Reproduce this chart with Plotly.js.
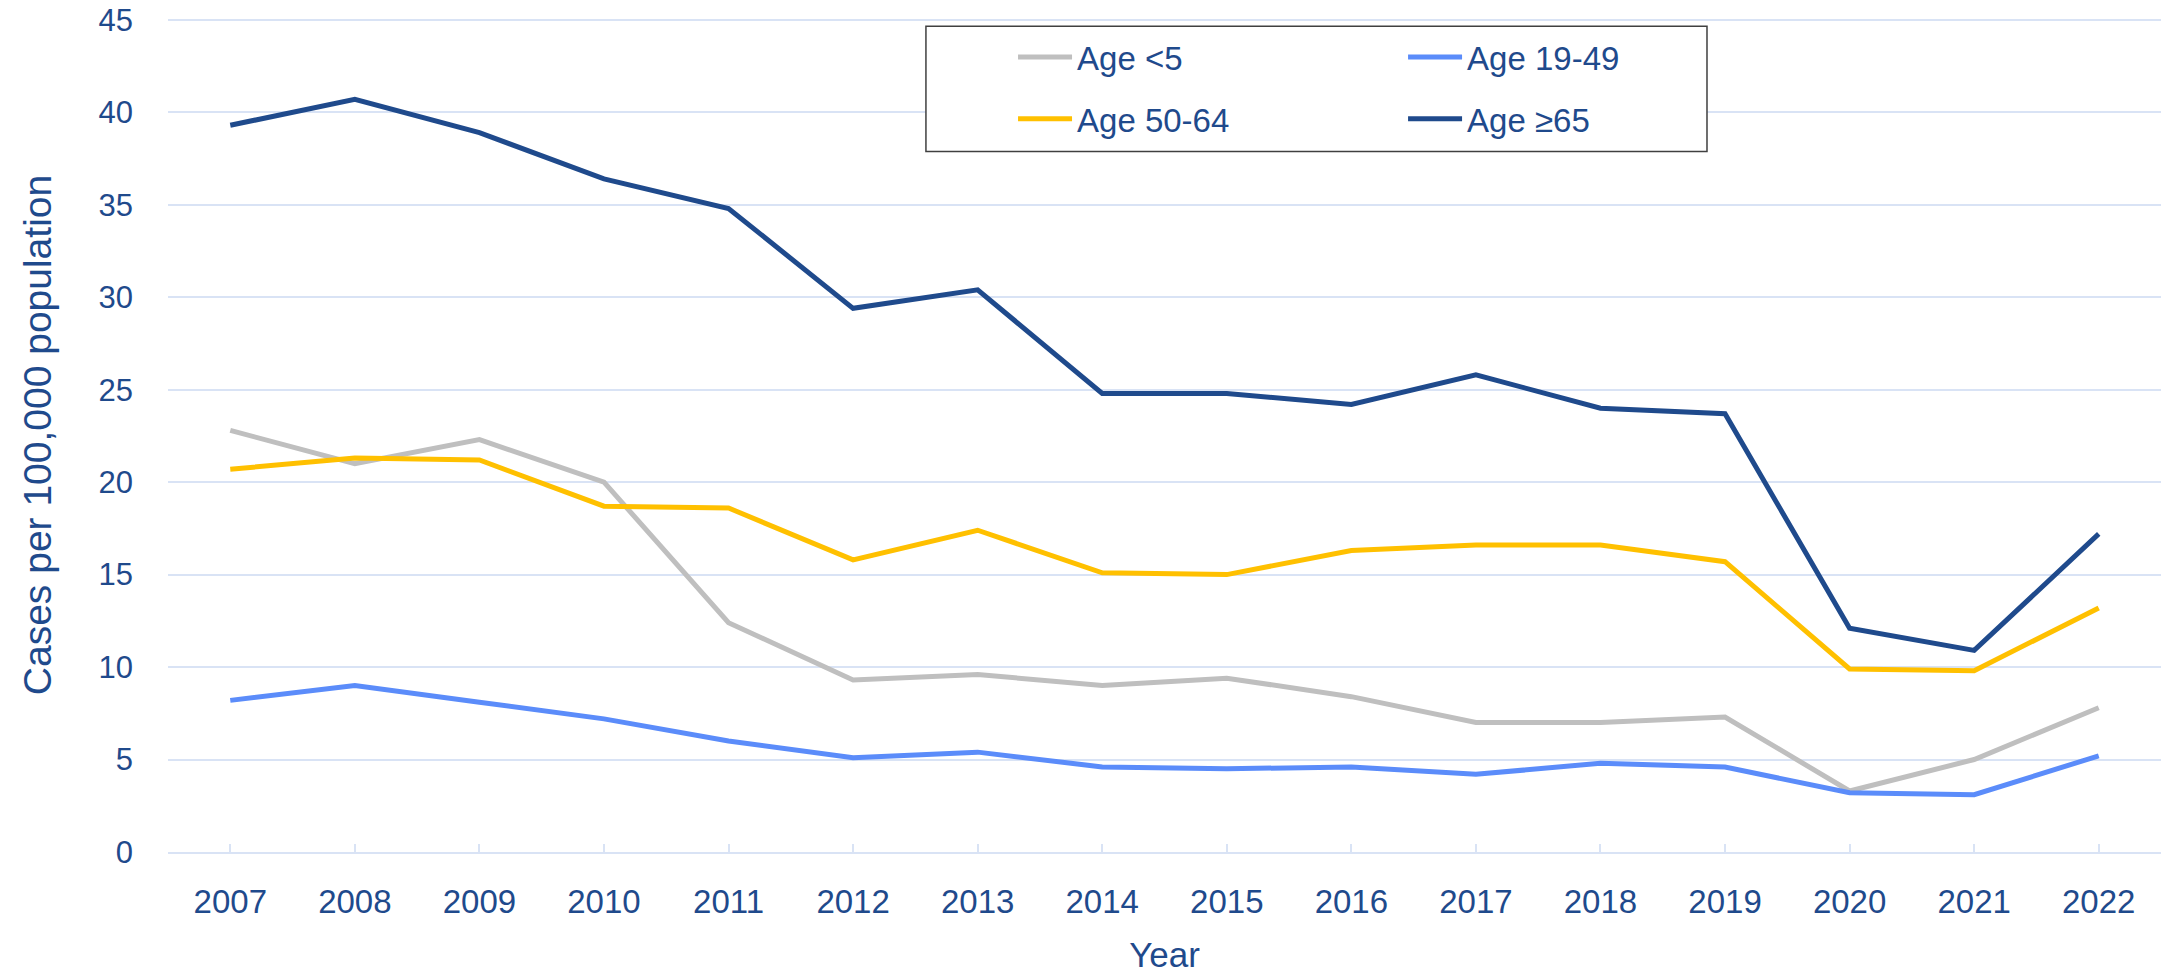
<!DOCTYPE html>
<html>
<head>
<meta charset="utf-8">
<script src="https://cdn.plot.ly/plotly-3.0.1.min.js"></script>
<style>
  html, body { margin: 0; padding: 0; background: #ffffff; }
  #chart { width: 2171px; height: 974px; }
</style>
</head>
<body>
<div id="chart"></div>
<script>
// ---- Data (cases per 100,000 population) ----
const years = ["2007","2008","2009","2010","2011","2012","2013","2014","2015","2016","2017","2018","2019","2020","2021","2022"];
const ageUnder5 = [22.8, 21.0, 22.3, 20.0, 12.4, 9.3, 9.6, 9.0, 9.4, 8.4, 7.0, 7.0, 7.3, 3.3, 5.0, 7.8];
const age19to49 = [8.2, 9.0, 8.1, 7.2, 6.0, 5.1, 5.4, 4.6, 4.5, 4.6, 4.2, 4.8, 4.6, 3.2, 3.1, 5.2];
const age50to64 = [20.7, 21.3, 21.2, 18.7, 18.6, 15.8, 17.4, 15.1, 15.0, 16.3, 16.6, 16.6, 15.7, 9.9, 9.8, 13.2];
const age65plus = [39.3, 40.7, 38.9, 36.4, 34.8, 29.4, 30.4, 24.8, 24.8, 24.2, 25.8, 24.0, 23.7, 12.1, 10.9, 17.2];
const seriesNames = ["Age <5", "Age 19-49", "Age 50-64", "Age \u226565"];
const yTicks = [0, 5, 10, 15, 20, 25, 30, 35, 40, 45];

const textColor = "#1F4A8C";
const gridColor = "#D9E3F5";
const fontFamily = "'Liberation Sans', Arial, sans-serif";

const seriesValues = [ageUnder5, age19to49, age50to64, age65plus];
const seriesColors = ["#BFBFBF", "#5B8CFA", "#FFC000", "#1F4A8C"];
const legendIds = ["legend", "legend2", "legend3", "legend4"];

const traces = seriesValues.map((vals, i) => ({
  type: "scatter",
  mode: "lines",
  name: seriesNames[i],
  x: years,
  y: vals,
  line: { color: seriesColors[i], width: 5 },
  legend: legendIds[i],
  hoverinfo: "x+y+name"
}));

// plot area: left 168, right 2161, top ~18, bottom 852.5
const legendFont = { family: fontFamily, size: 33, color: textColor };
function legendAt(x, y) {
  return { x: x, y: y, xanchor: "left", yanchor: "middle", bgcolor: "rgba(0,0,0,0)",
           borderwidth: 0, font: legendFont, orientation: "v", itemwidth: 54 };
}

const layout = {
  width: 2171,
  height: 974,
  margin: { l: 168, r: 10, t: 18.15, b: 121.5 },
  paper_bgcolor: "#ffffff",
  plot_bgcolor: "#ffffff",
  font: { family: fontFamily, color: textColor },
  showlegend: true,
  legend: legendAt(0.424, 0.9532),
  legend2: legendAt(0.6197, 0.9532),
  legend3: legendAt(0.424, 0.8792),
  legend4: legendAt(0.6197, 0.8792),
  xaxis: {
    type: "category",
    range: [-0.5, 15.5],
    showgrid: false,
    showline: true,
    linecolor: gridColor,
    linewidth: 2,
    ticks: "inside",
    ticklen: 8,
    tickwidth: 1.5,
    tickcolor: gridColor,
    ticklabelstandoff: 19,
    tickfont: { family: fontFamily, size: 33, color: textColor },
    title: { text: "Year", font: { family: fontFamily, size: 35, color: textColor }, standoff: 25 },
    automargin: false,
    fixedrange: true
  },
  yaxis: {
    range: [0, 45.1],
    tickvals: yTicks,
    showgrid: true,
    gridcolor: gridColor,
    gridwidth: 1.5,
    zeroline: false,
    showline: false,
    ticks: "",
    ticklabelstandoff: 34,
    tickfont: { family: fontFamily, size: 31, color: textColor },
    title: { text: "Cases per 100,000 population", font: { family: fontFamily, size: 39, color: textColor }, standoff: 34 },
    automargin: false,
    fixedrange: true
  },
  shapes: [{
    type: "rect", xref: "paper", yref: "paper",
    x0: 0.3803, x1: 0.7722, y0: 0.8400, y1: 0.9901,
    line: { color: "#404040", width: 1.5 },
    fillcolor: "#ffffff",
    layer: "above"
  }]
};

Plotly.newPlot("chart", traces, layout, { displayModeBar: false, staticPlot: false, responsive: false });
</script>
</body>
</html>
